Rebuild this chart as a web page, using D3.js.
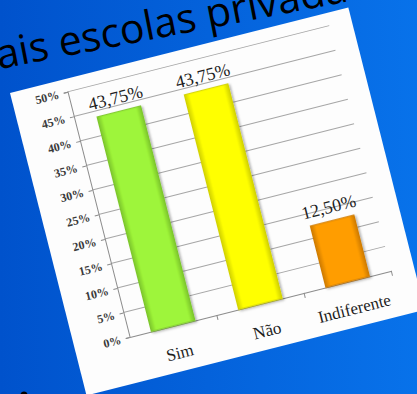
<!DOCTYPE html>
<html>
<head>
<meta charset="utf-8">
<script src="https://cdn.jsdelivr.net/npm/d3@7"></script>
<style>
  html, body { margin: 0; padding: 0; overflow: hidden; }
  svg { display: block; }
</style>
</head>
<body>
<script>
// Survey answers and their shares
const categories = ["Sim", "Não", "Indiferente"];
const values = [0.4375, 0.4375, 0.125];
const barColors = ["#9ef53a", "#ffff00", "#ff9d00"];
const barEdges = ["#7cc62a", "#d2d200", "#cf7b00"];
const yTicks = [0, 0.05, 0.10, 0.15, 0.20, 0.25, 0.30, 0.35, 0.40, 0.45, 0.50];
const slideTitle = "Mais escolas privadas";

const W = 417, H = 394;
const svg = d3.select("body").append("svg").attr("width", W).attr("height", H);
const defs = svg.append("defs");

// slide background
const bg = defs.append("linearGradient").attr("id", "bg").attr("x1", 0).attr("x2", 1).attr("y1", 0).attr("y2", 0);
bg.append("stop").attr("offset", 0).attr("stop-color", "#0052cc");
bg.append("stop").attr("offset", 1).attr("stop-color", "#0872ea");
svg.append("rect").attr("width", W).attr("height", H).attr("fill", "url(#bg)");

// slide heading, running off the top edge
const title = svg.append("text")
  .attr("transform", "translate(0,69) rotate(-11)")
  .attr("font-family", "'Open Sans', sans-serif")
  .attr("font-size", 41)
  .attr("fill", "#000")
  .text(slideTitle);
const mW = title.node().getSubStringLength(0, 1);
title.attr("x", -mW - 1);

// next bullet point
svg.append("circle").attr("cx", 24).attr("cy", 395).attr("r", 3.5).attr("fill", "#000");

// bar shading
categories.forEach((c, i) => {
  const g = defs.append("linearGradient").attr("id", "bar" + i).attr("x1", 0).attr("x2", 1).attr("y1", 0).attr("y2", 0);
  g.append("stop").attr("offset", 0).attr("stop-color", barEdges[i]);
  g.append("stop").attr("offset", 0.12).attr("stop-color", barColors[i]);
  g.append("stop").attr("offset", 0.88).attr("stop-color", barColors[i]);
  g.append("stop").attr("offset", 1).attr("stop-color", barEdges[i]);
});
const shadow = defs.append("filter").attr("id", "shadow").attr("x", "-20%").attr("y", "-20%").attr("width", "140%").attr("height", "140%");
shadow.append("feDropShadow").attr("dx", 1.5).attr("dy", 1.5).attr("stdDeviation", 1.2)
  .attr("flood-color", "#000").attr("flood-opacity", 0.3);

// tilted chart card
const card = svg.append("g").attr("transform", "translate(10,93) rotate(-14.2)");
card.append("rect").attr("width", 349).attr("height", 312).attr("fill", "#fdfdfd");

const x = d3.scaleBand().domain(categories).range([56, 326]).paddingInner(0.5).paddingOuter(0.25);
const y = d3.scaleLinear().domain([0, 0.5]).range([266, 13]);

const pct = d3.format(".0%");
const ptLocale = d3.formatLocale({ decimal: ",", thousands: ".", grouping: [3], currency: ["", "€"] });
const pct2 = ptLocale.format(".2%");

// gridlines
card.append("g").selectAll("line").data(yTicks.slice(1)).join("line")
  .attr("x1", 56).attr("x2", 326)
  .attr("y1", d => y(d)).attr("y2", d => y(d))
  .attr("stroke", "#a6a6a6").attr("stroke-width", 1);

// value axis
const yAxis = card.append("g").attr("transform", "translate(56,0)")
  .call(d3.axisLeft(y).tickValues(yTicks).tickFormat(pct).tickSize(4).tickPadding(5));
yAxis.select(".domain").attr("stroke", "#8c8c8c");
yAxis.selectAll(".tick line").attr("stroke", "#8c8c8c");
yAxis.selectAll("text")
  .attr("font-family", "'Liberation Serif', serif")
  .attr("font-weight", "bold")
  .attr("font-size", 12)
  .attr("fill", "#3a3a3a");

// category axis
const xAxis = card.append("g").attr("transform", "translate(0,266)")
  .call(d3.axisBottom(x).tickSize(0).tickPadding(21));
xAxis.select(".domain").attr("stroke", "#8c8c8c");
xAxis.selectAll("text")
  .attr("font-family", "'Liberation Serif', serif")
  .attr("font-size", 17)
  .attr("fill", "#1e1e1e");
card.append("g").selectAll("line").data(categories).join("line")
  .attr("x1", d => x(d) + x.bandwidth() + x.step() * 0.25)
  .attr("x2", d => x(d) + x.bandwidth() + x.step() * 0.25)
  .attr("y1", 266).attr("y2", 271)
  .attr("stroke", "#8c8c8c");

// bars
card.append("g").selectAll("rect").data(values).join("rect")
  .attr("x", (d, i) => x(categories[i]))
  .attr("width", x.bandwidth())
  .attr("y", d => y(d))
  .attr("height", d => y(0) - y(d))
  .attr("fill", (d, i) => `url(#bar${i})`)
  .attr("stroke", (d, i) => barEdges[i])
  .attr("stroke-width", 1)
  .attr("filter", "url(#shadow)");

// value labels
card.append("g").selectAll("text").data(values).join("text")
  .attr("x", (d, i) => x(categories[i]) + x.bandwidth() / 2)
  .attr("y", d => y(d) - 8)
  .attr("text-anchor", "middle")
  .attr("font-family", "'Liberation Serif', serif")
  .attr("font-size", 18)
  .attr("fill", "#1e1e1e")
  .text(d => pct2(d));
</script>
</body>
</html>
